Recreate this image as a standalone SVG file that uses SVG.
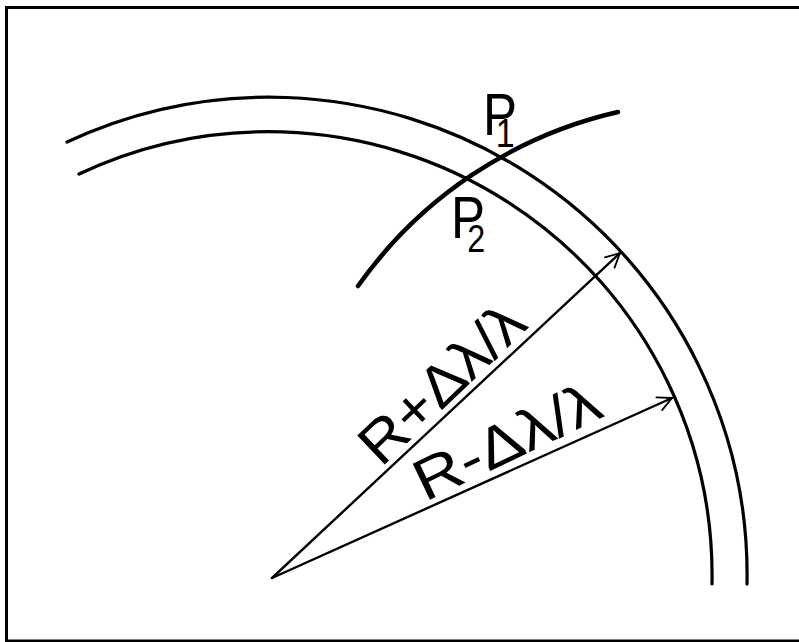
<svg xmlns="http://www.w3.org/2000/svg" width="799" height="642" viewBox="0 0 799 642">
<style>
.frame{fill:none;stroke:#000;stroke-width:3}
.arc{fill:none;stroke:#000;stroke-width:3.2;stroke-linecap:round}
.thick{fill:none;stroke:#000;stroke-width:4.5;stroke-linecap:round}
.radius{fill:none;stroke:#000;stroke-width:2.4;stroke-linecap:round}
.lbl{font-family:"Liberation Sans","DejaVu Sans",Arial,sans-serif;fill:#000}
</style>
<defs>
<marker id="open" viewBox="0 0 12 12" refX="11" refY="6" markerWidth="7" markerHeight="7" markerUnits="strokeWidth" orient="auto">
<path d="M1,1 L11,6 L1,11" fill="none" stroke="#000" stroke-width="1.3" stroke-linecap="round" stroke-linejoin="round"/>
</marker>
</defs>
<rect width="799" height="642" fill="#fff"/>
<path class="frame" d="M799,7.5 H6.5 V641 H799"/>
<g id="outer-circle">
<path class="arc" d="M67,142 A478,478 0 0 1 747,584"/>
</g>
<g id="inner-circle">
<path class="arc" d="M79,174 A444,444 0 0 1 712,584"/>
</g>
<g id="intersecting-arc">
<path class="thick" d="M358,286 A438,438 0 0 1 618,112"/>
</g>
<g id="P1">
<text class="lbl" font-size="60" transform="translate(483,135) scale(0.85,1)">P<tspan dx="-25" dy="12" font-size="40">1</tspan></text>
</g>
<g id="P2">
<text class="lbl" font-size="60" transform="translate(451,238) scale(0.85,1)">P<tspan dx="-21" dy="14" font-size="38">2</tspan></text>
</g>
<g id="connectors">
<path class="radius" d="M272,578 L620,253" marker-end="url(#open)"/>
<path class="radius" d="M272,578 L672,398" marker-end="url(#open)"/>
</g>
<g id="label-plus">
<text class="lbl" font-size="58" textLength="205" lengthAdjust="spacingAndGlyphs" transform="translate(381,468) rotate(-43.5)">R+Δλ/λ</text>
</g>
<g id="label-minus">
<text class="lbl" font-size="58" textLength="200" lengthAdjust="spacingAndGlyphs" transform="translate(425,502) rotate(-25.5)">R-Δλ/λ</text>
</g>
</svg>
